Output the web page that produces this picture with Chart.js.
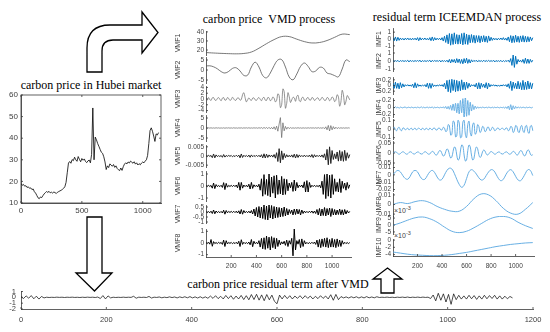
<!DOCTYPE html>
<html><head><meta charset="utf-8">
<script src="https://cdn.jsdelivr.net/npm/chart.js@4.4.1/dist/chart.umd.min.js"></script>
<style>
html,body{margin:0;padding:0;background:#fff;}
body{width:550px;height:332px;position:relative;overflow:hidden;}
canvas{position:absolute;}
.t{position:absolute;font-family:"Liberation Serif","Times New Roman",serif;font-size:12px;color:#000;white-space:pre;transform:translateX(-50%);line-height:14px;}
.e{position:absolute;font-family:"Liberation Sans",Arial,sans-serif;font-size:7px;color:#444;line-height:8px;white-space:nowrap;}
.e span{font-size:5.5px;vertical-align:3px;}
svg{position:absolute;left:0;top:0;}
</style></head>
<body>
<svg width="550" height="332">
<g fill="#fff" stroke="#000" stroke-width="1.3" stroke-linejoin="miter">
<path d="M87,72 L87,48 Q87,25 110,25 L142,25 L142,12 L158,32.5 L142,53 L142,40 L113,40 Q102,40 102,51 L102,72 Z"/>
<path d="M87,217 L102,217 L102,273 L112,273 L94.5,291 L76,273 L87,273 Z"/>
<path d="M381,293 L394,293 L394,279 L402,279 L387.5,268 L373,279 L381,279 Z"/>
</g></svg>
<div class="t" style="left:91px;top:78px">carbon price in Hubei market</div>
<div class="t" style="left:269px;top:12px">carbon price  VMD process</div>
<div class="t" style="left:457px;top:10px">residual term ICEEMDAN process</div>
<div class="t" style="left:278px;top:277px">carbon price residual term after VMD</div>
<div class="e" style="left:394px;top:204px">×10<span>-3</span></div>
<div class="e" style="left:394px;top:229px">×10<span>-3</span></div>
<script>
// ---------- data ----------
const priceStep = 10;
const price = [19.0,18.2,18.6,17.8,18.0,17.2,17.5,16.8,17.0,16.2,
16.5,15.2,14.6,13.5,12.4,12.0,12.8,12.5,13.4,14.2,
14.8,15.3,14.9,15.4,14.7,15.0,14.6,15.1,14.8,14.4,
15.0,15.3,15.6,15.9,16.3,16.8,17.5,19.5,24.0,28.5,
29.2,28.4,30.1,29.6,31.2,30.0,29.3,31.5,30.2,29.1,
30.6,29.8,30.4,29.2,28.7,29.5,29.9,28.6,32.5,54.0,
30.0,40.5,39.2,37.5,36.2,34.8,33.5,33.0,31.4,29.0,
25.5,27.2,26.4,28.1,27.6,27.0,27.8,26.5,27.2,26.0,
25.4,25.0,26.2,25.1,26.8,28.0,28.6,28.1,29.0,28.5,
29.4,28.9,28.4,29.1,28.0,28.6,27.6,28.2,27.7,28.5,
29.0,28.6,29.4,30.0,32.0,37.5,43.5,44.8,43.2,41.0,
38.5,42.0,41.5,42.6];

const VMF1 = [17.2,16.7,16.3,16.0,15.8,16.2,17.8,22.0,27.0,31.5,34.8,34.8,32.0,29.3,27.8,28.3,30.5,34.0,37.5,37.0];
const VMF2 = [2.0,2.1,1.6,0.6,-0.8,-1.5,-0.7,0.8,1.1,-0.5,-2.7,-2.6,1.5,3.9,1.5,-2.8,-3.9,-1.5,2.2,5.0,5.2,1.5,-3.5,-4.9,-2.0,1.8,3.5,1.8,-0.8,-0.5,1.3,1.0,-1.5,-2.0,-2.8,-3.4,0.5,5.0,4.2];
const VMF3 = [.3,-.4,.5,-.2,-.5,.4,.5,-.3,-.5,.2,
.5,-.1,-.6,.3,.5,-.4,-.3,.5,.2,-.5,
-.2,.6,.1,-.5,-.3,.4,.3,-.4,-.2,1.5,
2.2,.5,-1.0,-.3,.4,-.2,-.5,.3,.4,-.3,
-.5,.2,.5,-.1,-.6,.3,.6,-.4,-.5,.5,
.4,-.6,-.3,.7,.3,-1.0,-.5,1.8,1.2,-3.0,
-2.0,3.5,2.5,-3.2,-1.5,2.2,.8,-1.2,-.3,.6,
.4,-.8,.9,1.3,-.6,-.9,.4,.6,-.4,-.5,
.3,.5,-.3,-.4,.5,.3,-.5,-.2,.4,.3,
-.5,-.2,.6,.2,-.5,-.4,.5,.3,-.6,-.2,
.7,.3,-.9,-.4,1.5,.8,-2.5,-1.0,3.0,1.5,
-2.0,-.8,1.2,.6,-.3];
const VMF4 = [.05,-.1,.08,-.05,.1,-.08,.06,-.1,.12,-.06,
.08,-.1,.05,-.08,.1,-.12,.08,-.05,.1,-.08,
.06,-.1,.12,-.08,.05,-.1,.08,-.06,.1,-.12,
.08,-.05,.1,-.08,.12,-.1,.06,-.08,.1,-.05,
.08,-.12,.15,-.1,.2,-.25,.3,-.2,.25,-.3,
.35,-.4,.3,-.5,.6,-.8,.9,-1.6,2.0,5.2,
-4.8,2.6,-1.4,.8,-.6,.4,-.3,.2,-.15,.1,
-.12,.08,-.1,.15,-.1,.08,-.12,.1,-.08,.06,
-.1,.12,-.08,.1,-.06,.08,-.1,.12,-.15,.2,
-.12,.1,-.15,.25,-.4,.6,-.9,1.3,-1.5,1.2,
-.9,.7,-.5,.4,-.3,.2,-.15,.12,-.1,.08,
-.1,.08,-.06,.08,-.05];
const VMF5 = [.0002,-.0003,.0004,-.0002,.0003,-.0009,.0011,-.0010,.0006,-.0003,
.0002,-.0003,.0003,-.0007,.0008,-.0006,.0003,-.0002,.0003,-.0002,
.0003,-.0004,.0002,-.0003,.0004,-.0003,.0005,-.0010,.0011,-.0008,
.0004,-.0003,.0003,-.0004,.0005,-.0007,.0006,-.0004,.0003,-.0003,
.0004,-.0003,.0004,-.0005,.0007,-.0010,.0012,-.0011,.0010,-.0008,
.0006,-.0004,.0005,-.0006,.0008,-.0012,.0018,-.0030,.0040,-.0037,
.0028,-.0020,.0014,-.0009,.0007,-.0005,.0004,-.0005,.0006,-.0007,
.0010,-.0011,.0009,-.0008,.0006,-.0004,.0003,-.0004,.0005,-.0004,
.0003,-.0004,.0005,-.0006,.0008,-.0009,.0007,-.0005,.0004,-.0003,
.0004,-.0005,.0006,-.0008,.0012,-.0022,.0036,-.0048,.0050,-.0041,
.0030,-.0019,.0012,-.0015,.0022,-.0028,.0030,-.0026,.0024,-.0029,
.0031,-.0025,.0018,-.0012,.0008];
const VMF6 = [.04,-.05,.06,-.04,.05,-.18,.25,-.22,.12,-.05,
.04,-.05,.06,-.12,.28,-.3,.22,-.1,.05,-.04,
.05,-.04,.06,-.05,.08,-.15,.3,-.35,.3,-.18,
.08,-.05,.06,-.08,.15,-.25,.3,-.2,.1,-.05,
.06,-.08,.15,-.35,.6,-.85,.95,-.7,.55,-.8,
1.0,-.9,.75,-.6,.85,-1.0,.9,-.7,.5,-.65,
.8,-.75,.6,-.7,.55,-.4,.25,-.15,.3,-.45,
.5,-.4,.3,-.15,.08,-.06,.08,-.15,.35,-.5,
.45,-.5,.3,-.12,.06,-.05,.06,-.05,.04,-.06,
.08,-.15,.4,-.7,.95,-1.05,1.0,-.85,.9,-1.0,
.95,-.7,.6,-.45,.3,-.5,.6,-.55,.4,-.2,
.25,-.35,.3,-.2,.1];
const VMF7 = [.05,-.06,.04,-.07,.08,-.15,.2,-.18,.1,-.06,
.05,-.07,.06,-.1,.18,-.22,.15,-.08,.06,-.05,
.06,-.05,.07,-.06,.08,-.1,.12,-.2,.25,-.22,
.15,-.08,.06,-.07,.08,-.1,.15,-.2,.3,-.4,
.45,-.5,.55,-.6,.5,-.65,.7,-.75,.6,-.8,
.7,-.6,.65,-.7,.55,-.6,.5,-.55,.45,-.5,
.4,-.45,.5,-.4,.35,-.3,.25,-.15,.2,-.3,
.3,-.25,.3,-.2,.25,-.3,.2,-.15,.1,-.08,
.06,-.07,.08,-.06,.1,-.12,.1,-.15,.25,-.3,
.35,-.4,.3,-.35,.45,-.4,.35,-.3,.4,-.45,
.35,-.3,.25,-.3,.2,-.25,.3,-.28,.22,-.3,
.25,-.2,.15,-.1,.06];
const VMF8 = [.04,-.05,.06,-.1,.3,-.28,.12,-.05,.04,-.05,
.06,-.04,.05,-.12,.25,-.3,.2,-.08,.05,-.04,
.05,-.06,.04,-.05,.06,-.08,.15,-.3,.28,-.12,
.06,-.05,.04,-.06,.08,-.15,.3,-.32,.15,-.06,
.05,-.08,.2,-.35,.4,-.5,.45,-.55,.6,-.45,
.5,-.6,.55,-.4,.45,-.5,.4,-.3,.25,-.15,
.1,-.08,.15,-.2,.25,-.3,.2,-.1,.4,-1.1,
1.2,-.6,.2,-.1,.3,-.4,.35,-.3,.2,-.08,
.05,-.06,.04,-.05,.06,-.05,.08,-.12,.25,-.35,
.3,-.4,.35,-.3,.4,-.35,.45,-.4,.3,-.35,
.4,-.35,.3,-.4,.35,-.3,.25,-.3,.2,-.1,
.06,-.05,.04,-.05,.04];

const IMF1 = [.2,-.25,.3,-.3,.25,-.2,.15,-.12,.1,-.15,
.12,-.1,.15,-.12,.1,-.15,.12,-.1,.12,-.15,
.2,-.25,.2,-.15,.12,-.1,.15,-.12,.1,-.15,
.2,-.25,.3,-.25,.2,-.15,.12,-.1,.12,-.15,
.2,-.3,.4,-.5,.6,-.7,.8,-.9,.75,-.8,
.9,-.7,.65,-.75,.6,-.7,.8,-.85,.9,-.75,
.7,-.8,.6,-.55,.65,-.5,.55,-.6,.5,-.45,
.5,-.55,.45,-.4,.5,-.45,.4,-.5,.45,-.3,
.25,-.2,.15,-.12,.1,-.15,.12,-.1,.15,-.12,
.2,-.15,.12,-.2,.3,-.4,.5,-.55,.45,-.5,
.55,-.45,.4,-.5,.45,-.4,.5,-.45,.4,-.45,
.35,-.4,.3,-.25,.2];
const IMF2 = [.05,-.06,.04,-.05,.08,-.1,.06,-.04,.05,-.06,
.04,-.05,.1,-.12,.08,-.05,.04,-.06,.05,-.04,
.06,-.05,.1,-.12,.06,-.05,.04,-.06,.05,-.04,
.1,-.12,.08,-.05,.06,-.04,.05,-.06,.1,-.12,
.08,-.06,.05,-.08,.1,-.15,.2,-.25,.2,-.15,
.2,-.25,.3,-.2,.25,-.3,.2,-.35,.3,-.25,
.35,-.3,.2,-.25,.15,-.1,.08,-.06,.1,-.12,
.08,-.06,.05,-.08,.1,-.08,.06,-.05,.08,-.06,
.05,-.06,.1,-.12,.06,-.05,.04,-.06,.08,-.1,
.06,-.08,.05,-.06,.1,-.15,.3,-.55,.75,-.8,
.6,-.4,.2,-.12,.1,-.15,.2,-.3,.35,-.3,
.25,-.3,.2,-.15,.1];
const IMF3 = [.08,-.1,.12,-.1,.08,-.12,.1,-.08,.06,-.05,
.03,-.02,.03,-.02,.02,-.03,.05,-.08,.1,-.08,
.06,-.03,.02,-.03,.02,-.02,.03,-.05,.08,-.1,
.08,-.1,.07,-.04,.02,-.03,.02,-.02,.03,-.02,
.03,-.04,.08,-.12,.18,-.22,.2,-.25,.22,-.18,
.2,-.22,.18,-.2,.15,-.18,.2,-.15,.12,-.15,
.12,-.1,.08,-.05,.03,-.02,.03,-.05,.08,-.12,
.1,-.12,.08,-.06,.05,-.08,.1,-.12,.08,-.05,
.03,-.02,.03,-.02,.02,-.03,.02,-.03,.02,-.02,
.03,-.02,.03,-.05,.06,-.1,.15,-.18,.12,-.1,
.08,-.12,.15,-.12,.1,-.15,.18,-.15,.12,-.14,
.16,-.12,.1,-.12,.08];
const IMF4 = [.01,-.01,.02,-.01,.01,-.02,.01,0,-.01,.01,
.01,-.01,0,.01,-.01,.01,0,-.01,.01,-.01,
.01,0,-.01,.02,-.01,.01,-.01,0,.01,-.01,
.01,-.01,.02,-.02,.01,-.01,.01,0,-.01,.01,
-.01,.02,-.02,.03,-.04,.03,-.05,.06,-.08,.1,
-.09,.12,-.15,.12,-.18,.2,-.15,.25,-.3,.32,
-.25,.2,-.22,.15,-.1,.08,-.06,.04,-.03,.02,
-.02,.01,-.01,.01,0,-.01,.01,-.01,.01,0,
-.01,.01,-.01,.01,-.01,.01,0,-.01,.01,-.01,
.01,-.02,.02,-.03,.04,-.06,.08,-.07,.05,-.04,
.03,-.02,.02,-.01,.01,-.01,.01,0,-.01,.01,
-.01,.01,0,-.01,.01];
const IMF5 = [0,.02,-.01,-.02,.01,.02,-.01,-.02,.01,.01,
-.01,0,.01,-.01,0,.01,-.01,0,.01,-.01,
0,.01,0,-.01,.01,0,-.01,.01,0,-.01,
.01,0,-.01,.01,.01,-.01,-.01,.01,.01,-.01,
-.01,.02,.01,-.03,-.02,.05,.04,-.07,-.06,.09,
.08,-.09,-.08,.1,.07,-.1,-.09,.08,.1,-.06,
-.1,.05,.09,-.04,-.08,.05,.07,-.06,-.04,.05,
.03,-.04,-.02,.03,.02,-.03,-.02,.02,.02,-.02,
-.01,.02,.01,-.02,-.01,.01,.01,-.01,0,.01,
0,-.01,.01,.01,-.02,-.01,.03,.02,-.04,-.02,
.04,.03,-.03,-.04,.02,.04,-.02,-.04,.03,.04,
-.03,-.05,.03,.04,-.02];
const IMF6 = [0,.004,.006,.003,-.003,-.006,-.003,.003,.006,.004,
-.002,-.006,-.004,.002,.006,.004,-.002,-.005,-.004,.002,
.005,.004,-.002,-.005,-.004,.002,.006,.005,-.002,-.006,
-.005,.003,.008,.006,-.004,-.01,-.008,.004,.012,.01,
-.004,-.015,-.012,.006,.02,.015,-.008,-.025,-.02,.008,
.03,.025,-.01,-.035,-.03,.01,.04,.035,-.01,-.04,
-.035,.012,.04,.03,-.01,-.035,-.028,.01,.03,.022,
-.008,-.022,-.015,.006,.015,.01,-.004,-.01,-.006,.003,
.007,.005,-.002,-.006,-.004,.002,.005,.004,-.002,-.005,
-.004,.002,.005,.005,-.002,-.006,-.005,.003,.008,.006,
-.003,-.01,-.008,.004,.012,.01,-.004,-.014,-.012,.005,
.015,.012,-.005,-.012,-.008];
const IMF7 = [0,.004,.006,.004,-.001,-.005,-.006,-.002,.004,.006,
.004,-.002,-.006,-.006,-.001,.004,.006,.003,-.003,-.007,
-.006,0,.006,.009,.008,.002,-.006,-.013,-.017,-.014,
-.005,.004,.007,.005,.001,-.004,-.007,-.006,-.001,.004,
.007,.006,.001,-.005,-.008,-.006,0,.005,.007,.004,
-.002,-.007,-.008,-.004,.002,.007,.006,-.001];
const IMF8 = [0,.002,.001,.003,.004,.002,-.002,-.005,-.007,-.007,-.002,.006,.011,.01,.004,-.004,-.009,-.01,-.005,.002];
const IMF9 = [-.0002,.0015,.0035,.0052,.0058,.0045,.002,-.0015,-.0045,-.0055,-.0045,-.002,.001,.004,.0058,.0062,.005,.002,-.0005,-.0025];
const IMF10 = [-.0033,-.0036,-.0039,-.0041,-.0042,-.0043,-.0043,-.0042,-.004,-.0037,-.0034,-.003,-.0026,-.0022,-.0018,-.0015,-.0012,-.001,-.0008,-.0007];

const resid = [.1,-.2,.25,-.15,.3,-.25,.2,-.3,.15,-.1,
.02,-.03,.01,-.02,.03,-.01,.02,-.03,.02,-.01,
.03,-.02,.01,-.03,.02,-.02,.03,-.01,.02,-.03,
.05,-.2,.3,-.28,.25,-.1,.02,-.03,.01,-.02,
.03,-.02,.02,-.01,.18,-.15,.03,-.02,.02,-.03,
.15,-.12,.03,-.02,.06,-.08,.03,-.05,.08,-.04,
.06,-.1,.08,-.05,.1,-.08,.12,-.1,.08,-.12,
.1,-.13,.08,-.16,.22,-.18,.28,-.22,.18,-.28,
.32,-.22,.28,-.33,.22,-.28,.33,-.38,.28,-.42,
.48,-.38,.52,-.48,.42,-.58,.48,-.42,.38,-.68,
-1.1,.38,-.28,.33,-.22,.28,-.28,.22,-.18,.28,
-.22,.28,-.18,.22,-.28,.18,-.22,.28,-.18,.22,
-.28,.45,-.5,.5,-.4,.13,-.1,.08,-.12,.1,
-.08,.1,-.12,.08,-.1,.12,-.08,.06,-.08,.1,
-.03,.02,-.02,.04,-.03,.02,-.04,.03,-.02,.04,
-.03,.05,-.04,.03,-.02,.04,-.03,.04,-.02,.03,
-.2,.4,-.6,.7,-.5,.6,-.8,.5,-1.2,.6,
-.4,.35,-.3,.25,-.3,.35,-.25,.3,-.35,.25,
-.3,.35,-.25,.3,-.2,.35,-.3,.25,-.3,.2,
-.25,.15,-.1];

const xTicksLeft = [0,500,1000];
const xTicksDecomp = [200,400,600,800,1000];
const xTicksBottom = [0,200,400,600,800,1000,1200];

// sample index positions (days)
const idx = (arr, step) => arr.map((_, i) => i * step);

// ---------- drawing ----------
const AX = '#3a3a3a', TC = '#404040';
Chart.defaults.font.family = '"Liberation Sans", Arial, sans-serif';
const tickMarks = {
  id: 'tm',
  afterDraw(c, args, opts) {
    const ctx = c.ctx, a = c.chartArea, L = 2;
    ctx.save(); ctx.strokeStyle = AX; ctx.lineWidth = 0.8;
    const xs = c.scales.x, ys = c.scales.y;
    if (xs.options.display) xs.ticks.forEach(t => {
      const p = xs.getPixelForValue(t.value);
      ctx.beginPath(); ctx.moveTo(p, a.bottom); ctx.lineTo(p, a.bottom - L); ctx.stroke();
      if (opts.box) { ctx.beginPath(); ctx.moveTo(p, a.top); ctx.lineTo(p, a.top + L); ctx.stroke(); }
    });
    ys.ticks.forEach(t => {
      const p = ys.getPixelForValue(t.value);
      ctx.beginPath(); ctx.moveTo(a.left, p); ctx.lineTo(a.left + L, p); ctx.stroke();
      if (opts.box) { ctx.beginPath(); ctx.moveTo(a.right, p); ctx.lineTo(a.right - L, p); ctx.stroke(); }
    });
    if (opts.box) ctx.strokeRect(a.left, a.top, a.right - a.left, a.bottom - a.top);
    ctx.restore();
  }
};

function panel(o) {
  const padT = 8, padR = 18, padB = 8;
  const xH = o.showX ? (o.xH || 16) : 0;
  const h = o.bot - o.top;
  const W = o.yW + o.w + padR, H = padT + h + (o.showX ? xH : padB);
  const cv = document.createElement('canvas');
  cv.width = W; cv.height = H;
  Object.assign(cv.style, {left: (o.left - o.yW) + 'px', top: (o.top - padT) + 'px', width: W + 'px', height: H + 'px'});
  document.body.appendChild(cv);
  const fs = o.fs || 6.5;
  new Chart(cv, {
    type: 'line',
    data: {datasets: [{data: o.xs.map((x, i) => ({x: x, y: o.ys[i]})), borderColor: o.color, borderWidth: o.lw,
      pointRadius: 0, tension: o.tension || 0, fill: false}]},
    options: {
      responsive: false, animation: false, devicePixelRatio: 1, events: [],
      layout: {padding: {left: 0, top: padT, right: padR, bottom: o.showX ? 0 : padB}},
      plugins: {legend: {display: false}, tooltip: {enabled: false}, tm: {box: !!o.box}},
      scales: {
        x: {type: 'linear', min: 0, max: o.xMax, display: !!o.showX,
          afterFit: s => { s.height = xH; },
          afterBuildTicks: s => { s.ticks = (o.xTicks || []).map(v => ({value: v})); },
          grid: {display: false, drawTicks: false}, border: {display: true, color: AX, width: 0.8},
          ticks: {autoSkip: false, maxRotation: 0, padding: o.xPad || 4, color: TC, font: {size: o.xfs || fs}, callback: v => String(v)}},
        y: {type: 'linear', min: o.min, max: o.max,
          afterFit: s => { s.width = o.yW; },
          afterBuildTicks: s => { s.ticks = o.ticks.map(v => ({value: v})); },
          grid: {display: false, drawTicks: false}, border: {display: true, color: AX, width: 0.8},
          ticks: {autoSkip: false, padding: o.yPad || 2, color: TC, font: {size: fs}, callback: o.fmt || (v => String(v))},
          title: {display: !!o.label, text: o.label || '', color: TC, font: {size: o.tfs || 7}, padding: 0}}
      }
    },
    plugins: [tickMarks]
  });
}

// left: Hubei price
panel({left: 21, top: 95, bot: 203, w: 140, yW: 21, xs: idx(price, priceStep), ys: price, min: 10, max: 60,
  ticks: [10,20,30,40,50,60], xMax: 1150, showX: true, xTicks: xTicksLeft, xH: 16, xPad: 3, fs: 8, yPad: 3,
  color: '#000', lw: 0.8, box: true});

// middle: VMF
const mid = [
  {label: 'VMF1', ys: VMF1, step: 60, top: 31, bot: 55, min: 14.5, max: 41, ticks: [20,30,40], color: '#555', lw: 0.8, tension: 0.4},
  {label: 'VMF2', ys: VMF2, step: 30, top: 57, bot: 83, min: -6.5, max: 6.5, ticks: [-5,0,5], color: '#555', lw: 0.8, tension: 0.4},
  {label: 'VMF3', ys: VMF3, step: 10, top: 86, bot: 112, min: -4.5, max: 4.5, ticks: [-4,-2,0,2,4], color: '#666', lw: 0.7, tension: 0.3},
  {label: 'VMF4', ys: VMF4, step: 10, top: 115, bot: 141, min: -6.5, max: 6.5, ticks: [-5,0,5], color: '#666', lw: 0.7},
  {label: 'VMF5', ys: VMF5, step: 10, top: 145, bot: 167, min: -.006, max: .006, ticks: [-.005,0,.005], color: '#222', lw: 1},
  {label: 'VMF6', ys: VMF6, step: 10, top: 171, bot: 201, min: -1.25, max: 1.25, ticks: [-1,0,1], color: '#000', lw: 1},
  {label: 'VMF7', ys: VMF7, step: 10, top: 205, bot: 223, min: -1.1, max: 0.7, ticks: [-1,-0.5,0,0.5], color: '#000', lw: 1},
  {label: 'VMF8', ys: VMF8, step: 10, top: 229, bot: 257, min: -1.2, max: 1.2, ticks: [-1,0,1], color: '#000', lw: 1, showX: true}
];
mid.forEach(p => panel(Object.assign({left: 206, w: 145, yW: 32, xs: idx(p.ys, p.step), xMax: 1150, xTicks: xTicksDecomp, xPad: 5}, p)));

// right: ICEEMDAN
const blue = '#0072BD', lblue = '#57a6e0';
const e3 = v => String(Math.round(v * 1000));
const right = [
  {label: 'IMF1', ys: IMF1, step: 10, top: 28, bot: 50, min: -1.6, max: 1.6, ticks: [-1,0,1], color: blue, lw: 1},
  {label: 'IMF2', ys: IMF2, step: 10, top: 51, bot: 71, min: -1.25, max: 1.25, ticks: [-1,0,1], color: blue, lw: 1},
  {label: 'IMF3', ys: IMF3, step: 10, top: 77, bot: 94, min: -.3, max: .3, ticks: [-.2,0,.2], color: blue, lw: 1},
  {label: 'IMF4', ys: IMF4, step: 10, top: 98, bot: 117, min: -.27, max: .27, ticks: [-.2,0,.2], color: lblue, lw: 0.9, tension: 0.3},
  {label: 'IMF5', ys: IMF5, step: 10, top: 119, bot: 139, min: -.115, max: .115, ticks: [-.1,0,.1], color: lblue, lw: 0.9, tension: 0.4},
  {label: 'IMF6', ys: IMF6, step: 10, top: 141, bot: 165, min: -.06, max: .06, ticks: [-.05,0,.05], color: lblue, lw: 0.9, tension: 0.4},
  {label: 'IMF7', ys: IMF7, step: 20, top: 166, bot: 191, min: -.022, max: .012, ticks: [-.02,-.01,0,.01], color: lblue, lw: 0.9, tension: 0.4},
  {label: 'IMF8', ys: IMF8, step: 60, top: 193, bot: 216, min: -.012, max: .012, ticks: [-.01,0,.01], color: lblue, lw: 0.9, tension: 0.4},
  {label: 'IMF9', ys: IMF9, step: 60, top: 216, bot: 234, min: -.0065, max: .0065, ticks: [-.005,0,.005], color: lblue, lw: 0.9, tension: 0.4, fmt: e3},
  {label: 'IMF10', ys: IMF10, step: 60, top: 239, bot: 256, min: -.0044, max: .0003, ticks: [-.004,-.002,0], color: lblue, lw: 0.9, tension: 0.4, fmt: e3, showX: true}
];
right.forEach(p => panel(Object.assign({left: 393, w: 141, yW: 18, xs: idx(p.ys, p.step), xMax: 1150, xTicks: xTicksDecomp, xPad: 6}, p)));

// bottom: residual
panel({left: 21, top: 290, bot: 309, w: 512, yW: 21, xs: idx(resid, 6), ys: resid, min: -2, max: 1, ticks: [-2,-1,0,1],
  xMax: 1200, showX: true, xTicks: xTicksBottom, xH: 18, xPad: 6, fs: 7.5, yPad: 5, color: '#000', lw: 0.7});
</script>
</body></html>
